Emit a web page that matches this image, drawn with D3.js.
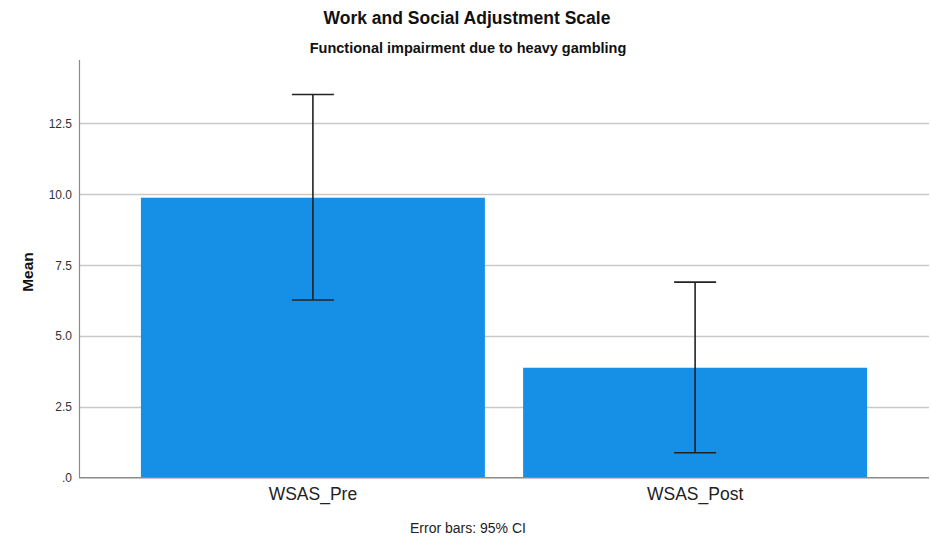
<!DOCTYPE html>
<html>
<head>
<meta charset="utf-8">
<script src="https://cdn.jsdelivr.net/npm/d3@7"></script>
<style>
  body { margin: 0; background: #fff; }
  svg { display: block; font-family: Arial, "Liberation Sans", sans-serif; }
</style>
</head>
<body>
<svg id="chart" width="931" height="539"></svg>
<script>
// WSAS means with 95% confidence intervals
const categories = ["WSAS_Pre", "WSAS_Post"];
const means = [9.88, 3.88];
const ciLow = [6.27, 0.88];
const ciHigh = [13.52, 6.90];
const yTicks = [0, 2.5, 5.0, 7.5, 10.0, 12.5];
const yTickLabels = [".0", "2.5", "5.0", "7.5", "10.0", "12.5"];

const svg = d3.select("#chart");
const plot = { left: 79, right: 929, top: 60, bottom: 477.7 };

const x = d3.scaleBand()
  .domain(categories)
  .range([plot.left, plot.right])
  .paddingInner(0.1)
  .paddingOuter(0.162);

const y = d3.scaleLinear()
  .domain([0, 14.74])
  .range([plot.bottom, plot.top]);

// titles
svg.append("text")
  .attr("x", 467).attr("y", 24)
  .attr("text-anchor", "middle")
  .attr("font-size", 17.5).attr("font-weight", "bold")
  .attr("fill", "#111")
  .text("Work and Social Adjustment Scale");

svg.append("text")
  .attr("x", 468).attr("y", 53)
  .attr("text-anchor", "middle")
  .attr("font-size", 14.5).attr("font-weight", "bold")
  .attr("fill", "#111")
  .text("Functional impairment due to heavy gambling");

// gridlines
svg.append("g")
  .selectAll("line")
  .data(yTicks.filter(d => d > 0))
  .join("line")
  .attr("x1", plot.left).attr("x2", plot.right)
  .attr("y1", d => Math.round(y(d)) + 0.5).attr("y2", d => Math.round(y(d)) + 0.5)
  .attr("stroke", "#c9c9c9").attr("stroke-width", 1.5);

// y axis
const yAxis = d3.axisLeft(y)
  .tickValues(yTicks)
  .tickFormat((d, i) => yTickLabels[i])
  .tickSize(0)
  .tickPadding(7);

const yg = svg.append("g")
  .attr("transform", `translate(${plot.left},0)`)
  .call(yAxis);
yg.select(".domain").remove();
yg.selectAll("text")
  .attr("font-size", 12).attr("fill", "#333")
  .attr("font-family", "Arial, 'Liberation Sans', sans-serif");

svg.append("line")
  .attr("x1", plot.left + 0.5).attr("x2", plot.left + 0.5)
  .attr("y1", plot.top).attr("y2", plot.bottom)
  .attr("stroke", "#8a8a8a").attr("stroke-width", 1.2);

// bars
svg.append("g")
  .selectAll("rect")
  .data(categories)
  .join("rect")
  .attr("x", d => x(d))
  .attr("width", x.bandwidth())
  .attr("y", (d, i) => y(means[i]))
  .attr("height", (d, i) => y(0) - y(means[i]))
  .attr("fill", "#1590e6");

// x axis baseline and labels
const xAxis = d3.axisBottom(x).tickSize(0).tickPadding(10);
const xg = svg.append("g")
  .attr("transform", `translate(0,${plot.bottom})`)
  .call(xAxis);
xg.select(".domain").remove();
xg.selectAll("text")
  .attr("font-size", 17.5).attr("fill", "#222")
  .attr("font-family", "Arial, 'Liberation Sans', sans-serif");

svg.append("line")
  .attr("x1", plot.left).attr("x2", plot.right)
  .attr("y1", plot.bottom).attr("y2", plot.bottom)
  .attr("stroke", "#8a8a8a").attr("stroke-width", 1.5);

// error bars
const capHalf = 21;
const eb = svg.append("g")
  .attr("stroke", "#222").attr("stroke-width", 1.6);
categories.forEach((c, i) => {
  const cx = x(c) + x.bandwidth() / 2;
  eb.append("line")
    .attr("x1", cx).attr("x2", cx)
    .attr("y1", y(ciLow[i])).attr("y2", y(ciHigh[i]));
  eb.append("line")
    .attr("x1", cx - capHalf).attr("x2", cx + capHalf)
    .attr("y1", y(ciHigh[i])).attr("y2", y(ciHigh[i]));
  eb.append("line")
    .attr("x1", cx - capHalf).attr("x2", cx + capHalf)
    .attr("y1", y(ciLow[i])).attr("y2", y(ciLow[i]));
});

// y axis title
svg.append("text")
  .attr("transform", "translate(33,272) rotate(-90)")
  .attr("text-anchor", "middle")
  .attr("font-size", 15.5).attr("font-weight", "bold")
  .attr("fill", "#111")
  .text("Mean");

// footnote
svg.append("text")
  .attr("x", 468).attr("y", 533)
  .attr("text-anchor", "middle")
  .attr("font-size", 14).attr("fill", "#222")
  .text("Error bars: 95% CI");
</script>
</body>
</html>
